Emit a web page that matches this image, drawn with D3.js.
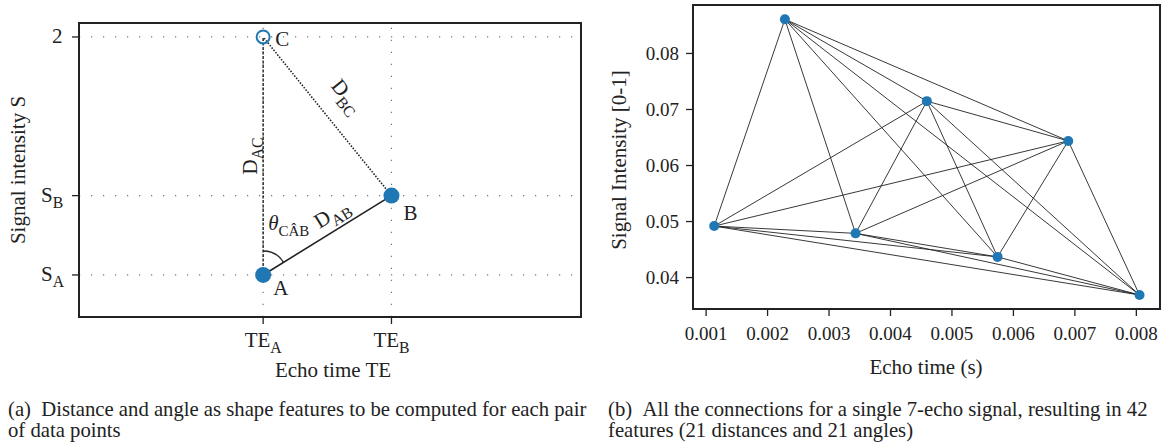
<!DOCTYPE html>
<html>
<head>
<meta charset="utf-8">
<script src="https://cdn.jsdelivr.net/npm/d3@7"></script>
<style>
  body { margin: 0; background: #fff; }
  text { font-family: "Liberation Serif", "DejaVu Serif", serif; fill: #222; }
</style>
</head>
<body>
<div id="chart"></div>
<script>
// panel (a): schematic points
let schemePoints = [
  {name: "A", te: 1, s: 0.5},
  {name: "B", te: 2, s: 1},
  {name: "C", te: 1, s: 2}
];
let schemeYTicks = [{v: 0.5, main: "S", sub: "A"}, {v: 1, main: "S", sub: "B"}, {v: 2, main: "2", sub: ""}];
let schemeXTicks = [{v: 1, main: "TE", sub: "A"}, {v: 2, main: "TE", sub: "B"}];

// panel (b): a single 7-echo signal
let echoTimes = [0.00114, 0.00229, 0.00344, 0.00460, 0.00575, 0.00690, 0.00806];
let signalValues = [0.0491, 0.0860, 0.0478, 0.0714, 0.0436, 0.0643, 0.0368];
let echoXTicks = [0.001, 0.002, 0.003, 0.004, 0.005, 0.006, 0.007, 0.008];
let echoYTicks = [0.04, 0.05, 0.06, 0.07, 0.08];

let width = 1167, height = 443;
let blue = "#1f77b4";
let fs = 21; // label size panel (a)

let svg = d3.select("#chart").append("svg")
    .attr("width", width)
    .attr("height", height);

// ---------- panel (a) ----------
let x1 = d3.scaleLinear().domain([-0.435, 3.477]).range([79, 581]);
let y1 = d3.scaleLinear().domain([0.235, 2.088]).range([317, 23]);

let g1 = svg.append("g");

// dotted guide lines
schemeYTicks.forEach(t => {
  g1.append("line")
    .attr("x1", x1.range()[0]).attr("x2", x1.range()[1])
    .attr("y1", y1(t.v)).attr("y2", y1(t.v))
    .attr("stroke", "#777").attr("stroke-width", 1.2)
    .attr("stroke-dasharray", "1.2,10.8");
});
schemeXTicks.forEach(t => {
  g1.append("line")
    .attr("y1", y1.range()[0]).attr("y2", y1.range()[1])
    .attr("x1", x1(t.v)).attr("x2", x1(t.v))
    .attr("stroke", "#777").attr("stroke-width", 1.2)
    .attr("stroke-dasharray", "1.2,10.8");
});

let A = schemePoints[0], B = schemePoints[1], C = schemePoints[2];

// A-B solid
g1.append("line")
  .attr("x1", x1(A.te)).attr("y1", y1(A.s))
  .attr("x2", x1(B.te)).attr("y2", y1(B.s))
  .attr("stroke", "#222").attr("stroke-width", 1.6);
// A-C dashed
g1.append("line")
  .attr("x1", x1(A.te)).attr("y1", y1(A.s))
  .attr("x2", x1(C.te)).attr("y2", y1(C.s))
  .attr("stroke", "#222").attr("stroke-width", 1.4)
  .attr("stroke-dasharray", "3,1.5");
// B-C dotted
g1.append("line")
  .attr("x1", x1(B.te)).attr("y1", y1(B.s))
  .attr("x2", x1(C.te)).attr("y2", y1(C.s))
  .attr("stroke", "#222").attr("stroke-width", 1.6)
  .attr("stroke-dasharray", "1.5,1.5");

// angle arc at A
let ax = x1(A.te), ay = y1(A.s);
let abAngle = Math.atan2(y1(B.s) - ay, x1(B.te) - ax);
let r = 24;
g1.append("path")
  .attr("d", `M${ax},${ay - r} A${r},${r} 0 0,1 ${ax + r * Math.cos(abAngle)},${ay + r * Math.sin(abAngle)}`)
  .attr("fill", "none").attr("stroke", "#222").attr("stroke-width", 1.4);

// points
g1.selectAll("circle.filled")
  .data([A, B])
  .enter().append("circle")
  .attr("cx", d => x1(d.te)).attr("cy", d => y1(d.s))
  .attr("r", 8).attr("fill", blue);
g1.append("circle")
  .attr("cx", x1(C.te)).attr("cy", y1(C.s))
  .attr("r", 6.5).attr("fill", "none").attr("stroke", blue).attr("stroke-width", 2);

// point labels
g1.append("text").attr("x", x1(A.te) + 10).attr("y", y1(A.s) + 20).attr("font-size", fs).text("A");
g1.append("text").attr("x", x1(B.te) + 12).attr("y", y1(B.s) + 24).attr("font-size", fs).text("B");
g1.append("text").attr("x", x1(C.te) + 12).attr("y", y1(C.s) + 9).attr("font-size", fs).text("C");

function subLabel(sel, main, sub, size) {
  sel.append("tspan").attr("font-size", size).text(main);
  sel.append("tspan").attr("font-size", size * 0.75).attr("dy", size * 0.3).text(sub);
}

// D_AC (vertical)
let dac = g1.append("text")
  .attr("transform", `translate(${x1(A.te) - 6},${y1(1.25)}) rotate(-90)`)
  .attr("text-anchor", "middle");
subLabel(dac, "D", "AC", fs);

// D_AB along A-B
let abDeg = abAngle * 180 / Math.PI;
let dab = g1.append("text")
  .attr("transform", `translate(${x1(1.6) - 5},${y1(0.8) - 8}) rotate(${abDeg})`)
  .attr("text-anchor", "middle");
subLabel(dab, "D", "AB", fs);

// D_BC along B-C
let bcDeg = Math.atan2(y1(B.s) - y1(C.s), x1(B.te) - x1(C.te)) * 180 / Math.PI;
let dbc = g1.append("text")
  .attr("transform", `translate(${x1(1.55) + 8},${y1(1.55) - 8}) rotate(${bcDeg})`)
  .attr("text-anchor", "middle");
subLabel(dbc, "D", "BC", fs);

// theta label
let th = g1.append("text").attr("x", x1(A.te) + 5).attr("y", y1(A.s) - 45);
th.append("tspan").attr("font-size", fs).attr("font-style", "italic").text("θ");
th.append("tspan").attr("font-size", 15).attr("dy", 6).text("CÂB");

// frame
g1.append("rect")
  .attr("x", x1.range()[0]).attr("y", y1.range()[1])
  .attr("width", x1.range()[1] - x1.range()[0])
  .attr("height", y1.range()[0] - y1.range()[1])
  .attr("fill", "none").attr("stroke", "#222").attr("stroke-width", 2);

// ticks
schemeYTicks.forEach(t => {
  g1.append("line").attr("x1", 72).attr("x2", 79).attr("y1", y1(t.v)).attr("y2", y1(t.v))
    .attr("stroke", "#222").attr("stroke-width", 1.3);
  let tx = g1.append("text").attr("x", 41).attr("y", y1(t.v) + 6);
  if (t.sub) subLabel(tx, t.main, t.sub, fs);
  else tx.attr("x", 52).attr("font-size", fs).text(t.main);
});
schemeXTicks.forEach(t => {
  g1.append("line").attr("x1", x1(t.v)).attr("x2", x1(t.v)).attr("y1", 317).attr("y2", 324)
    .attr("stroke", "#222").attr("stroke-width", 1.3);
  let tx = g1.append("text").attr("x", x1(t.v)).attr("y", 347).attr("text-anchor", "middle");
  subLabel(tx, t.main, t.sub, fs);
});

g1.append("text").attr("x", 333).attr("y", 377).attr("text-anchor", "middle")
  .attr("font-size", fs).text("Echo time TE");
g1.append("text")
  .attr("transform", `translate(25,170) rotate(-90)`)
  .attr("text-anchor", "middle").attr("font-size", fs).text("Signal intensity S");

// ---------- panel (b) ----------
let x2 = d3.scaleLinear().domain([0.000795, 0.008393]).range([693, 1160]);
let y2 = d3.scaleLinear().domain([0.0343, 0.08856]).range([309, 5]);

let g2 = svg.append("g");

let pts = echoTimes.map((t, i) => ({t: t, s: signalValues[i]}));
let pairs = [];
for (let i = 0; i < pts.length; i++)
  for (let j = i + 1; j < pts.length; j++) pairs.push([pts[i], pts[j]]);

g2.selectAll("line.conn")
  .data(pairs)
  .enter().append("line")
  .attr("x1", d => x2(d[0].t)).attr("y1", d => y2(d[0].s))
  .attr("x2", d => x2(d[1].t)).attr("y2", d => y2(d[1].s))
  .attr("stroke", "#222").attr("stroke-width", 0.9);

g2.selectAll("circle")
  .data(pts)
  .enter().append("circle")
  .attr("cx", d => x2(d.t)).attr("cy", d => y2(d.s))
  .attr("r", 5).attr("fill", blue);

let xAxis = g2.append("g").attr("transform", "translate(0,309)")
  .call(d3.axisBottom(x2).tickValues(echoXTicks).tickFormat(d3.format(".3f")).tickSize(7).tickSizeOuter(0));
let yAxis = g2.append("g").attr("transform", "translate(693,0)")
  .call(d3.axisLeft(y2).tickValues(echoYTicks).tickFormat(d3.format(".2f")).tickSize(7).tickSizeOuter(0));
[xAxis, yAxis].forEach(a => {
  a.attr("font-size", 19).attr("font-family", null);
  a.select(".domain").remove();
  a.selectAll(".tick line").attr("stroke", "#222").attr("stroke-width", 1.3);
  a.selectAll(".tick text").attr("fill", "#222");
});
xAxis.selectAll(".tick text").attr("dy", 21);
yAxis.selectAll(".tick text").attr("dx", -4);

g2.append("rect")
  .attr("x", 693).attr("y", 5).attr("width", 1160 - 693).attr("height", 309 - 5)
  .attr("fill", "none").attr("stroke", "#222").attr("stroke-width", 2);

g2.append("text").attr("x", 926).attr("y", 374).attr("text-anchor", "middle")
  .attr("font-size", 21).text("Echo time (s)");
g2.append("text")
  .attr("transform", `translate(626,160) rotate(-90)`)
  .attr("text-anchor", "middle").attr("font-size", 21).text("Signal Intensity [0-1]");

// ---------- captions ----------
let capA = svg.append("text").attr("x", 8).attr("y", 416).attr("font-size", 20.7);
capA.append("tspan").text("(a)\u00a0\u00a0Distance and angle as shape features to be computed for each pair");
capA.append("tspan").attr("x", 8).attr("dy", 21).text("of data points");

let capB = svg.append("text").attr("x", 608).attr("y", 416).attr("font-size", 20.7);
capB.append("tspan").text("(b)\u00a0\u00a0All the connections for a single 7-echo signal, resulting in 42");
capB.append("tspan").attr("x", 608).attr("dy", 21).text("features (21 distances and 21 angles)");
</script>
</body>
</html>
